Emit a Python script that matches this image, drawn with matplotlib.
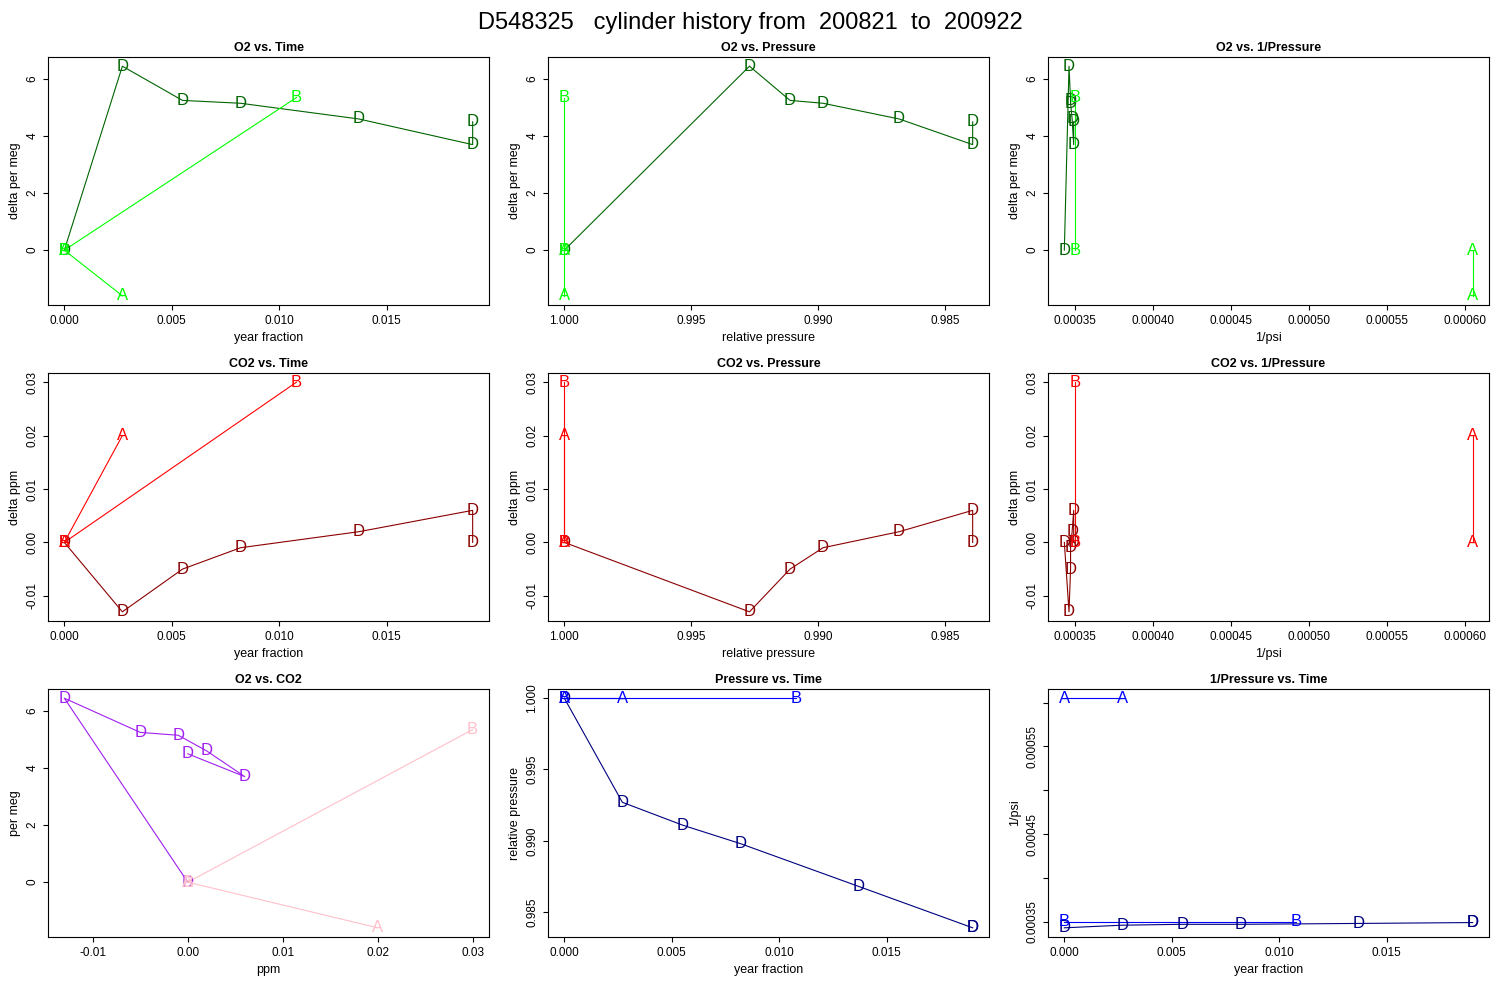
import matplotlib.pyplot as plt
import numpy as np

plt.rcParams['font.family'] = ['Liberation Sans', 'DejaVu Sans']

# series data: A, B, D flask records
t_A = [0.0, 0.0027]
t_B = [0.0, 0.0108]
t_D = [0.0, 0.0027, 0.0055, 0.0082, 0.0137, 0.0190, 0.0190]

o2_A = [0.0, -1.6]
o2_B = [0.0, 5.35]
o2_D = [0.0, 6.45, 5.25, 5.15, 4.6, 3.7, 4.5]

co2_A = [0.0, 0.020]
co2_B = [0.0, 0.030]
co2_D = [0.0, -0.013, -0.005, -0.001, 0.002, 0.006, 0.0]

p_A = [1.0, 1.0]
p_B = [1.0, 1.0]
p_D = [1.0, 0.9927, 0.9911, 0.9898, 0.9868, 0.9839, 0.9839]

ip_A = [0.000605, 0.000605]
ip_B = [0.000350, 0.000350]
ip_D = [0.000343, 0.000346, 0.000347, 0.000347, 0.000348, 0.000349, 0.000349]

title = "D548325   cylinder history from  200821  to  200922"

fig = plt.figure(figsize=(15, 10), dpi=100)
fig.text(0.5, 0.988, title, ha="center", va="top", fontsize=17)

lefts = [48, 548, 1048]
tops = [57, 373, 689]
W, H = 441, 248


def rlim(ax, xs, ys, xrev=False):
    xs = np.concatenate(xs); ys = np.concatenate(ys)
    dx = (xs.max() - xs.min()) * 0.04
    dy = (ys.max() - ys.min()) * 0.04
    if xrev:
        ax.set_xlim(xs.max() + dx, xs.min() - dx)
    else:
        ax.set_xlim(xs.min() - dx, xs.max() + dx)
    ax.set_ylim(ys.min() - dy, ys.max() + dy)


def panel(r, c, xs, ys, cols, ttl, xl, yl, xrev=False, xticks=None, yticks=None, yfmt=None, xfmt=None):
    ax = fig.add_axes([lefts[c] / 1500, 1 - (tops[r] + H) / 1000, W / 1500, H / 1000])
    order = [2, 0, 1]
    for i in order:
        x, y, col = xs[i], ys[i], cols[i]
        ax.plot(x, y, color=col, lw=0.8)
        for xi, yi in zip(x, y):
            ax.text(xi, yi, "ABD"[i], color=col, fontsize=12, ha="center", va="center")
    rlim(ax, xs, ys, xrev)
    ax.set_title(ttl, fontsize=9, fontweight="bold", pad=4)
    ax.set_xlabel(xl, fontsize=9)
    ax.set_ylabel(yl, fontsize=9)
    if xticks is not None:
        ax.set_xticks(xticks)
        if xfmt:
            ax.set_xticklabels([xfmt(v) for v in xticks])
    if yticks is not None:
        ax.set_yticks(yticks)
        if yfmt:
            ax.set_yticklabels([yfmt(v) for v in yticks])
    ax.tick_params(labelsize=8.5)
    for lab in ax.get_yticklabels():
        lab.set_rotation(90)
        lab.set_va("center")
    return ax


lime, dg = "#00ff00", "#006400"
red, dr = "#ff0000", "#8b0000"
pink, pur = "#ffc0cb", "#a020f0"
blue, navy = "#0000ff", "#000080"

tx = [0, 0.005, 0.01, 0.015]
tf = lambda v: f"{v:.3f}"
px = [1.0, 0.995, 0.99, 0.985]
ipx = [0.00035, 0.0004, 0.00045, 0.0005, 0.00055, 0.0006]
ipf = lambda v: f"{v:.5f}"
co2t = [-0.01, 0, 0.01, 0.02, 0.03]
co2f = lambda v: f"{v:.2f}"
o2t = [0, 2, 4, 6]

panel(0, 0, [t_A, t_B, t_D], [o2_A, o2_B, o2_D], [lime, lime, dg], "O2 vs. Time",
      "year fraction", "delta per meg", xticks=tx, xfmt=tf, yticks=o2t)
panel(0, 1, [p_A, p_B, p_D], [o2_A, o2_B, o2_D], [lime, lime, dg], "O2 vs. Pressure",
      "relative pressure", "delta per meg", xrev=True, xticks=px, xfmt=tf, yticks=o2t)
panel(0, 2, [ip_A, ip_B, ip_D], [o2_A, o2_B, o2_D], [lime, lime, dg], "O2 vs. 1/Pressure",
      "1/psi", "delta per meg", xticks=ipx, xfmt=ipf, yticks=o2t)

panel(1, 0, [t_A, t_B, t_D], [co2_A, co2_B, co2_D], [red, red, dr], "CO2 vs. Time",
      "year fraction", "delta ppm", xticks=tx, xfmt=tf, yticks=co2t, yfmt=co2f)
panel(1, 1, [p_A, p_B, p_D], [co2_A, co2_B, co2_D], [red, red, dr], "CO2 vs. Pressure",
      "relative pressure", "delta ppm", xrev=True, xticks=px, xfmt=tf, yticks=co2t, yfmt=co2f)
panel(1, 2, [ip_A, ip_B, ip_D], [co2_A, co2_B, co2_D], [red, red, dr], "CO2 vs. 1/Pressure",
      "1/psi", "delta ppm", xticks=ipx, xfmt=ipf, yticks=co2t, yfmt=co2f)

panel(2, 0, [co2_A, co2_B, co2_D], [o2_A, o2_B, o2_D], [pink, pink, pur], "O2 vs. CO2",
      "ppm", "per meg", xticks=co2t, xfmt=co2f, yticks=o2t)
panel(2, 1, [t_A, t_B, t_D], [p_A, p_B, p_D], [blue, blue, navy], "Pressure vs. Time",
      "year fraction", "relative pressure", xticks=tx, xfmt=tf, yticks=px, yfmt=tf)
ax = panel(2, 2, [t_A, t_B, t_D], [ip_A, ip_B, ip_D], [blue, blue, navy], "1/Pressure vs. Time",
           "year fraction", "1/psi", xticks=tx, xfmt=tf, yticks=ipx)
ax.set_yticklabels(["0.00035", "", "0.00045", "", "0.00055", ""], rotation=90, va="center")

fig.savefig("out.png", dpi=100)
